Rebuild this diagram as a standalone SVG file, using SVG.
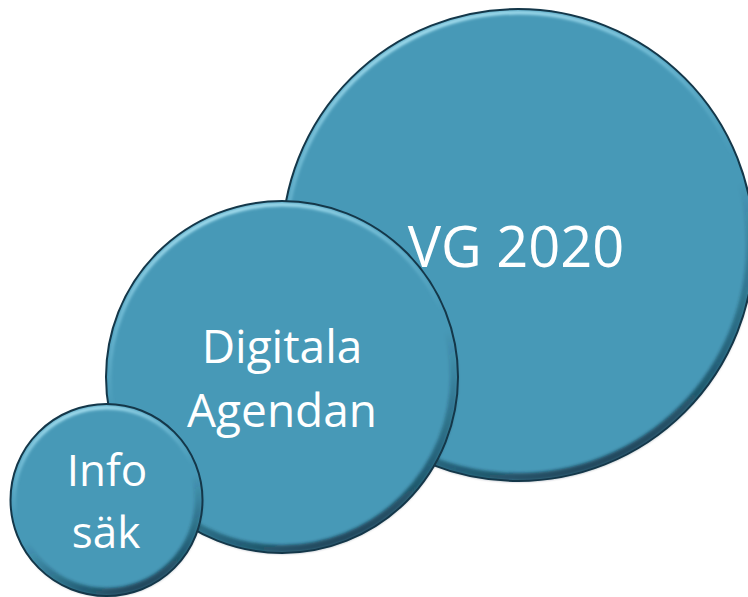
<svg xmlns="http://www.w3.org/2000/svg" width="748" height="597" viewBox="0 0 748 597">
  <defs>
    <linearGradient id="hi" x1="0.35" y1="0" x2="0.65" y2="1">
      <stop offset="0" stop-color="#b4eaf8" stop-opacity="1"/>
      <stop offset="0.22" stop-color="#96d9ef" stop-opacity="0.55"/>
      <stop offset="0.45" stop-color="#8fd4ec" stop-opacity="0"/>
    </linearGradient>
    <linearGradient id="sh" x1="0.3" y1="0" x2="0.7" y2="1">
      <stop offset="0.55" stop-color="#0b2636" stop-opacity="0"/>
      <stop offset="0.85" stop-color="#0b2636" stop-opacity="0.45"/>
      <stop offset="1" stop-color="#0b2636" stop-opacity="0.75"/>
    </linearGradient>
    <filter id="soft" x="-5%" y="-5%" width="110%" height="110%">
      <feGaussianBlur stdDeviation="1.4"/>
    </filter>
    <style>
      .body { fill: #4799b7; }
      .edge { fill: none; stroke: #143749; stroke-width: 2; }
      .hi { fill: none; stroke: url(#hi); stroke-width: 3.5; filter: url(#soft); }
      .sh { fill: none; stroke: url(#sh); stroke-width: 8; filter: url(#soft); }
      .lbl { fill: #ffffff; font-family: "Open Sans", "Liberation Sans", sans-serif; text-anchor: middle; }
    </style>
  </defs>

  <g id="node-vg2020">
    <circle class="body" cx="518" cy="245" r="236"/>
    <circle class="sh" cx="518" cy="245" r="232"/>
    <circle class="hi" cx="518" cy="245" r="232.5"/>
    <circle class="edge" cx="518" cy="245" r="236"/>
    <text class="lbl" x="516" y="267" font-size="56">VG 2020</text>
  </g>

  <g id="node-digitala">
    <circle class="body" cx="282" cy="377" r="176"/>
    <circle class="sh" cx="282" cy="377" r="172"/>
    <circle class="hi" cx="282" cy="377" r="172.5"/>
    <circle class="edge" cx="282" cy="377" r="176"/>
    <text class="lbl" x="282" y="363" font-size="46">Digitala</text>
    <text class="lbl" x="282" y="427" font-size="46">Agendan</text>
  </g>

  <g id="node-infosak">
    <circle class="body" cx="106.5" cy="500" r="96"/>
    <circle class="sh" cx="106.5" cy="500" r="92"/>
    <circle class="hi" cx="106.5" cy="500" r="92.5"/>
    <circle class="edge" cx="106.5" cy="500" r="96"/>
    <text class="lbl" x="107" y="486" font-size="44">Info</text>
    <text class="lbl" x="106" y="548" font-size="44">säk</text>
  </g>

  <g id="connectors"/>
</svg>
